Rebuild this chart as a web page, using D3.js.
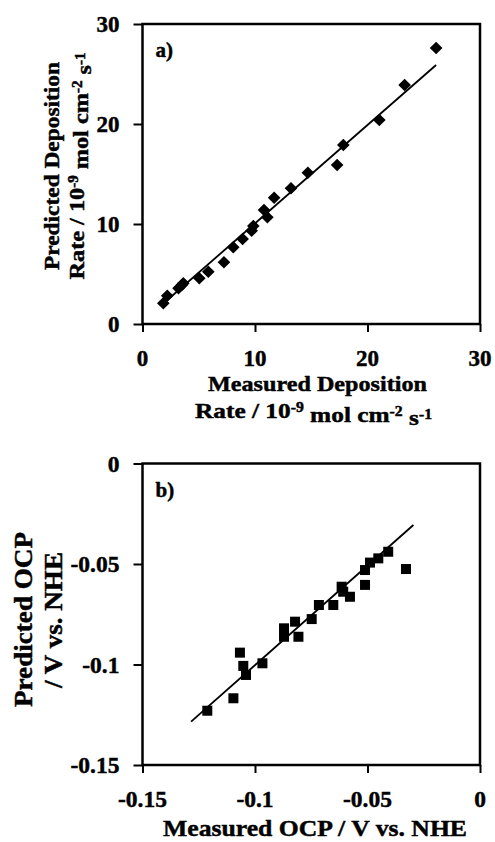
<!DOCTYPE html>
<html>
<head>
<meta charset="utf-8">
<script src="https://cdn.jsdelivr.net/npm/d3@7/dist/d3.min.js"></script>
<style>
  html, body { margin: 0; padding: 0; background: #fff; }
  svg { display: block; }
  text { font-family: "Liberation Serif", "Times New Roman", serif; font-weight: bold; fill: #000; stroke: #000; stroke-width: 0.45px; }
</style>
</head>
<body>
<svg id="fig" width="495" height="842"></svg>
<script>
// Panel a: deposition rate, 10^-9 mol cm^-2 s^-1
const measuredRate  = [1.85, 2.2, 3.2, 3.5, 3.63, 5.05, 5.85, 7.24, 8.07, 8.9, 9.7, 9.85, 10.8, 11.1, 11.7, 13.2, 14.7, 17.3, 17.85, 21.05, 23.3, 26.1];
const predictedRate = [2.07, 2.83, 3.57, 3.9, 4.07, 4.57, 5.23, 6.17, 7.67, 8.5, 9.33, 9.8, 11.4, 10.67, 12.63, 13.57, 15.13, 15.9, 17.9, 20.4, 23.9, 27.6];
const rateFit = [[1.7, 1.9], [26.1, 25.9]];
const rateTicks = [0, 10, 20, 30];

// Panel b: open circuit potential, V vs. NHE
const measuredOCP  = [-0.1212, -0.1096, -0.1067, -0.1052, -0.1040, -0.0967, -0.0871, -0.0871, -0.0822, -0.0807, -0.0748, -0.0716, -0.0652, -0.0615, -0.0578, -0.0608, -0.0511, -0.0511, -0.0489, -0.0452, -0.0408, -0.0329];
const predictedOCP = [-0.1230, -0.1168, -0.0941, -0.1007, -0.1052, -0.0994, -0.0820, -0.0862, -0.0787, -0.0862, -0.0774, -0.0704, -0.0704, -0.0613, -0.0663, -0.0638, -0.0604, -0.0530, -0.0493, -0.0472, -0.0439, -0.0525];
const ocpFit = [[-0.1284, -0.1284], [-0.0296, -0.0306]];
const ocpTicks = [-0.15, -0.1, -0.05, 0];
const ocpTickLabels = ["-0.15", "-0.1", "-0.05", "0"];

const svg = d3.select("#fig");
svg.append("rect").attr("width", 495).attr("height", 842).attr("fill", "#fff");

function panel(opts) {
  const x = d3.scaleLinear().domain(opts.domain).range([opts.left, opts.right]);
  const y = d3.scaleLinear().domain(opts.domain).range([opts.bottom, opts.top]);
  const g = svg.append("g");

  // frame
  g.append("rect")
    .attr("x", opts.left).attr("y", opts.top)
    .attr("width", opts.right - opts.left).attr("height", opts.bottom - opts.top)
    .attr("fill", "none").attr("stroke", "#000").attr("stroke-width", 2.5);

  // tick marks
  const fmt = d => opts.labels[opts.ticks.indexOf(d)];
  const ax = g.append("g").attr("transform", `translate(0,${opts.bottom})`)
    .call(d3.axisBottom(x).tickValues(opts.ticks).tickSize(8).tickSizeOuter(0).tickFormat(""));
  const ay = g.append("g").attr("transform", `translate(${opts.left},0)`)
    .call(d3.axisLeft(y).tickValues(opts.ticks).tickSize(9).tickSizeOuter(0).tickFormat(""));
  [ax, ay].forEach(a => {
    a.select(".domain").remove();
    a.selectAll("line").attr("stroke", "#000").attr("stroke-width", 2);
  });

  // tick labels
  g.selectAll(".xl").data(opts.ticks).join("text")
    .attr("x", d => x(d)).attr("y", opts.xLabelY)
    .attr("text-anchor", "middle").attr("font-size", opts.tickSize).text(fmt);
  g.selectAll(".yl").data(opts.ticks).join("text")
    .attr("x", opts.left - 23).attr("y", d => y(d)).attr("dy", "0.35em")
    .attr("text-anchor", "end").attr("font-size", opts.tickSize).text(fmt);

  // fit line
  g.append("line")
    .attr("x1", x(opts.fit[0][0])).attr("y1", y(opts.fit[0][1]))
    .attr("x2", x(opts.fit[1][0])).attr("y2", y(opts.fit[1][1]))
    .attr("stroke", "#000").attr("stroke-width", 1.8);

  // markers
  const pts = opts.xs.map((v, i) => [v, opts.ys[i]]);
  if (opts.marker === "diamond") {
    const r = 6.3;
    g.selectAll(".pt").data(pts).join("path")
      .attr("transform", d => `translate(${x(d[0])},${y(d[1])})`)
      .attr("d", `M0,${-r}L${r},0L0,${r}L${-r},0Z`).attr("fill", "#000");
  } else {
    const s = 10;
    g.selectAll(".pt").data(pts).join("rect")
      .attr("x", d => x(d[0]) - s / 2).attr("y", d => y(d[1]) - s / 2)
      .attr("width", s).attr("height", s).attr("fill", "#000");
  }

  // panel tag
  g.append("text").attr("x", opts.left + 13).attr("y", opts.top + 33)
    .attr("font-size", 21).text(opts.tag);
  return {x, y, g};
}

// text line with superscripted exponents: parts = [text, sup, text, sup, ...]
function richText(attrs, parts, length) {
  const t = svg.append("text").attr("text-anchor", "middle");
  Object.entries(attrs).forEach(([k, v]) => t.attr(k, v));
  parts.forEach((p, i) => {
    if (i % 2 === 0) {
      t.append("tspan").attr("dy", i === 0 ? null : "0.42em").text(p);
    } else {
      t.append("tspan").attr("dy", "-0.42em").attr("font-size", "0.62em").text(p);
    }
  });
  if (length) t.attr("textLength", length).attr("lengthAdjust", "spacingAndGlyphs");
  return t;
}

// panel a
panel({
  left: 142.5, right: 480, top: 24, bottom: 324,
  domain: [0, 30], ticks: rateTicks, labels: rateTicks.map(String),
  xLabelY: 366, tickSize: 23, xs: measuredRate, ys: predictedRate, fit: rateFit,
  marker: "diamond", tag: "a)"
});

// panel b
panel({
  left: 142.5, right: 480, top: 463.5, bottom: 765,
  domain: [-0.15, 0], ticks: ocpTicks, labels: ocpTickLabels,
  xLabelY: 807, tickSize: 23.5, xs: measuredOCP, ys: predictedOCP, fit: ocpFit,
  marker: "square", tag: "b)"
});

// axis titles, panel a
richText({x: 317.5, y: 391, "font-size": 22}, ["Measured Deposition"], 219);
richText({x: 313.5, y: 418, "font-size": 22}, ["Rate / 10", "-9", " mol cm", "-2", " s", "-1"], 237);
richText({transform: "translate(59,166) rotate(-90)", "font-size": 22}, ["Predicted Deposition"], 208);
richText({transform: "translate(84,166) rotate(-90)", "font-size": 22}, ["Rate  / 10", "-9", " mol cm", "-2", " s", "-1"], 227);

// axis titles, panel b
richText({x: 315, y: 836, "font-size": 24}, ["Measured OCP / V vs. NHE"], 304);
richText({transform: "translate(32,619.5) rotate(-90)", "font-size": 26}, ["Predicted OCP"], 175);
richText({transform: "translate(62,620) rotate(-90)", "font-size": 26}, ["/ V vs. NHE"], 136);
</script>
</body>
</html>
